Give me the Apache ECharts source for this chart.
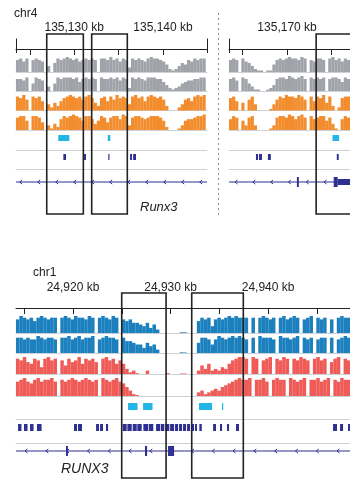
<!DOCTYPE html>
<html>
<head>
<meta charset="utf-8">
<script src="https://cdn.jsdelivr.net/npm/echarts@6/dist/echarts.min.js"></script>
<style>
  html, body { margin: 0; padding: 0; background: #fff; }
  #chart { width: 350px; height: 479px; }
</style>
</head>
<body>
<div id="chart"></div>
<script>
// genomic windows (kb) and coverage bin size
const chr4LeftRange = [135123.45, 135144.95];
const chr4RightRange = [135163.45, 135177.1];
const chr1Range = [24914.15, 24948.4];
const binKb = 0.35;

// ruler ticks / labels (kb)
const chr4LeftTicks = [135125, 135130, 135135, 135140];
const chr4LeftLabels = [135130, 135140];
const chr4RightTicks = [135165, 135170, 135175];
const chr4RightLabels = [135170];
const chr1Ticks = [24915, 24920, 24925, 24930, 24935, 24940, 24945];
const chr1Labels = [24920, 24930, 24940];

// coverage, one value per bin, starting at the window start
const chr4LeftGray1 = [8,9,7,9,0,8,9,8,7,0, 4,0,6,9,8,9,10,9,8,9, 7,8,9,8,9,8,0,9,9,8, 10,8,9,7,9,8,3,9,8,9, 8,7,9,10,9,9,8,7,5,2, 1,2,4,6,5,8,7,9,8,9,9];
const chr4LeftGray2 = [8,8,7,9,0,5,9,8,7,0, 3,0,5,9,8,9,9,9,8,9, 6,8,9,8,9,8,0,9,8,8, 9,8,9,7,9,8,2,9,8,9, 8,7,9,9,9,8,8,6,4,2, 1,2,3,5,6,7,7,8,8,9,9];
const chr4LeftOrange1 = [9,8,10,7,0,9,8,9,6,0, 4,2,5,3,6,8,9,10,9,8, 9,7,9,10,8,5,3,8,9,6, 9,7,10,8,9,8,4,9,10,8, 9,6,9,10,9,8,9,7,3,0, 0,0,2,4,7,8,6,9,10,9,10];
const chr4LeftOrange2 = [8,9,9,6,0,9,9,8,5,0, 3,1,4,2,7,9,8,9,10,9, 8,6,9,9,7,4,6,9,8,5, 8,9,9,7,10,9,3,8,9,9, 8,7,8,9,9,9,8,6,2,0, 0,0,1,3,6,7,7,8,9,9,10];

const chr4RightGray1 = [8,9,8,0,9,7,6,4,2,1, 1,0,1,1,5,8,9,8,9,10, 9,9,8,10,9,0,8,7,9,9, 8,0,9,10,8,9,7,9,8];
const chr4RightGray2 = [8,9,7,0,9,8,5,3,1,1, 0,0,1,2,4,8,9,9,8,10, 9,8,9,10,8,0,9,8,9,8, 9,0,8,9,9,8,6,9,8];
const chr4RightOrange1 = [8,9,6,0,5,0,7,9,4,0, 0,0,0,1,4,7,9,8,10,9, 9,8,10,9,7,0,9,6,9,8, 10,5,9,3,0,2,8,9,9];
const chr4RightOrange2 = [7,9,8,0,6,3,8,9,3,0, 0,0,0,1,3,8,9,9,8,10, 9,7,9,10,8,0,9,7,8,9, 9,6,8,4,1,0,7,9,8];

const chr1Blue1 = [8,10,9,8,9,7,9,10,9,8,9,9, 0, 9,10,9,8,10,9,9,8,10,9,0,9,10,9,8,10,9,0,
  8,7,8,6,6,5,4,6,3,5,2, 0,0,0,0,0,0,0.4,0.4,0,0,0, 7,9,8,9,4,8,9,8,9,10,9,10,9,9,
  9,0,9,0,9,10,9,8,9,0,9,10,8,9,10,9,0,8,9,10,0,9,8,9,0,8,0,9,10,9,9];
const chr1Blue2 = [9,9,8,9,8,8,10,9,8,9,9,8, 0, 9,9,10,8,9,10,8,9,9,10,0,8,9,10,9,9,8,0,
  9,7,7,6,5,5,3,6,4,5,2, 0,0,0,0,0,0,0.4,0.3,0,0,0, 6,9,9,8,5,8,10,9,8,9,10,9,10,9,
  8,0,9,0,10,9,9,9,8,0,10,9,9,8,9,10,0,9,8,9,0,8,9,9,0,9,0,8,9,10,9];
const chr1Red1 = [9,8,10,7,6,9,8,4,9,10,8,9,0,8,5,9,7,8,10,6,9,8,9,7,0,9,10,8,9,6,8,
  6,3,1,2,0.5,0, 0,2,0,0,0,0,0,0.5,0,0,0,0.3,0.3,0,0,0, 2,5,3,6,2, 3,2,4,3, 6,8,9,10,10,
  9,0,10,9,0,8,9,10,0,9,8,10,9,0,9,8,10,9,8,0,9,10,8,9,0,7,9,10,0,9,8];
const chr1Red2 = [8,9,10,8,7,9,10,8,9,9,10,8,0,9,8,9,10,9,8,9,10,9,8,9,0,10,9,8,9,10,8,7,
  5,3,1,0.5, 0,0,0,0,0,0,0,0,0,0,0,0,0,0,0,0,0, 2,3,1,2,3, 4,3,5,6, 7,8,9,10,9,
  9,10,0,9,9,10,8,0,9,10,9,9,0,10,9,8,9,10,0,9,9,10,8,9,10,0,9,8,10,9,9];

// feature intervals [start, end] in kb
const chr4Peaks = [[135128.21, 135129.45], [135133.78, 135134.07], [135175.13, 135175.87]];
const chr4Sites = [[135128.78, 135129.08], [135131.11, 135131.33], [135133.84, 135133.96],
  [135136.29, 135136.51], [135136.63, 135136.96], [135166.49, 135166.72], [135166.83, 135167.17],
  [135167.84, 135168.17], [135175.61, 135175.83]];
const chr4GeneSpan = [135120, 135180];
const chr4Exons = [[135171.11, 135171.33], [135175.26, 135175.71]];
const chr4Utrs = [[135175.71, 135178]];
const chr4LeftBoxes = [[135126.91, 135131.03], [135131.97, 135135.98]];
const chr4RightBoxes = [[135173.28, 135180]];

const chr1Peaks = [[24925.64, 24926.61], [24927.18, 24928.15], [24932.92, 24934.25], [24935.28, 24935.38]];
const chr1Sites = [[24914.36, 24914.71], [24914.97, 24915.33], [24915.59, 24915.95], [24916.30, 24916.77],
  [24920.10, 24920.41], [24920.51, 24920.92], [24922.36, 24922.66], [24922.77, 24923.07], [24923.38, 24923.59],
  [24925.09, 24925.50], [24925.57, 24926.02], [24926.12, 24926.53], [24926.59, 24927.04],
  [24927.21, 24927.72], [24927.79, 24928.23], [24928.51, 24928.92], [24928.99, 24929.36],
  [24929.46, 24929.87], [24929.95, 24930.36], [24930.46, 24930.77], [24930.87, 24931.18],
  [24931.28, 24931.59], [24931.69, 24932.00], [24932.10, 24932.41], [24932.51, 24932.71],
  [24932.95, 24933.20], [24934.36, 24934.66], [24935.07, 24935.28], [24935.79, 24936.00],
  [24936.71, 24937.02], [24946.66, 24947.07], [24947.38, 24947.69], [24948.20, 24948.51]];
const chr1GeneSpan = [24910, 24950];
const chr1Exons = [[24919.28, 24919.48], [24927.38, 24927.59], [24929.74, 24930.36]];
const chr1Boxes = [[24924.99, 24929.54], [24932.17, 24937.46]];

const FONT = '"Liberation Sans", Arial, sans-serif';
const INK = '#222';
const SEP = '#cdd0d5';
const NAVY = '#2e3192';
const CYAN = '#22b5e6';

const fmtKb = v => String(Math.round(v)).replace(/\B(?=(\d{3})+(?!\d))/g, ',') + ' kb';

const grid = [], xAxis = [], yAxis = [], series = [];

function addGrid(rect, range, baseline) {
  const gi = grid.length;
  grid.push({ left: rect[0], top: rect[1], width: rect[2], height: rect[3] });
  const xi = xAxis.length, yi = yAxis.length;
  xAxis.push({
    type: 'value', gridIndex: gi, min: range[0], max: range[1],
    axisLine: { show: !!baseline, onZero: false, lineStyle: { color: SEP, width: 1 } },
    axisTick: { show: false }, axisLabel: { show: false }, splitLine: { show: false }
  });
  yAxis.push({ type: 'value', gridIndex: gi, min: 0, max: 10, show: false });
  return { xi, yi };
}

function addRuler(left, width, top, lineY, range, ticks, labels, caps, margin) {
  const gi = grid.length;
  grid.push({ left, top, width, height: lineY - top });
  const capVals = [];
  if (caps[0]) capVals.push(range[0]);
  if (caps[1]) capVals.push(range[1]);
  xAxis.push({
    type: 'value', gridIndex: gi, position: 'bottom', min: range[0], max: range[1],
    axisLine: { show: true, onZero: false, lineStyle: { color: INK, width: 1 } },
    axisTick: { show: capVals.length > 0, length: 4, customValues: capVals, lineStyle: { color: INK } },
    axisLabel: { show: false }, splitLine: { show: false }
  });
  xAxis.push({
    type: 'value', gridIndex: gi, position: 'top', min: range[0], max: range[1],
    minInterval: 5, maxInterval: 5,
    axisLine: { show: false },
    axisTick: { show: true, inside: true, length: 6, customValues: ticks, lineStyle: { color: INK } },
    axisLabel: { show: true, customValues: labels, formatter: fmtKb, margin,
      fontSize: 12, fontFamily: FONT, color: INK },
    splitLine: { show: false }
  });
  ['left', 'right'].forEach((pos, k) => {
    yAxis.push({
      type: 'value', gridIndex: gi, position: pos, min: 0, max: 1,
      axisLine: { show: caps[k], onZero: false, lineStyle: { color: INK, width: 1 } },
      axisTick: { show: false }, axisLabel: { show: false }, splitLine: { show: false }
    });
  });
}

function addTrack(rect, range, values, color, barWidth) {
  const a = addGrid(rect, range, true);
  series.push({
    type: 'bar', xAxisIndex: a.xi, yAxisIndex: a.yi, barWidth,
    itemStyle: { color },
    data: values.map((v, i) => [range[0] + (i + 0.5) * binKb, v])
  });
}

function addBlocks(rect, range, data, color, dy, h) {
  const a = addGrid(rect, range, true);
  series.push({
    type: 'custom', xAxisIndex: a.xi, yAxisIndex: a.yi, clip: true, data,
    renderItem: (params, api) => {
      const cs = params.coordSys;
      const x1 = api.coord([api.value(0), 0])[0];
      const x2 = api.coord([api.value(1), 0])[0];
      return { type: 'rect', shape: { x: x1, y: cs.y + dy, width: Math.max(x2 - x1, 1.2), height: h },
        style: { fill: color } };
    }
  });
}

function addGene(rect, range, span, exons, utrs, step, phase) {
  const a = addGrid(rect, range, false);
  const base = { type: 'custom', xAxisIndex: a.xi, yAxisIndex: a.yi, clip: true };
  series.push(Object.assign({}, base, {
    data: [span],
    renderItem: (params, api) => {
      const cs = params.coordSys;
      const y = cs.y + cs.height / 2;
      const x1 = Math.max(api.coord([api.value(0), 0])[0], cs.x);
      const x2 = Math.min(api.coord([api.value(1), 0])[0], cs.x + cs.width);
      const kids = [{ type: 'line', shape: { x1, y1: y, x2, y2: y }, style: { stroke: NAVY, lineWidth: 1.2 } }];
      for (let x = x1 + phase; x < x2 - 2; x += step) {
        kids.push({ type: 'polyline', shape: { points: [[x + 1.5, y - 2], [x - 1, y], [x + 1.5, y + 2]] },
          style: { stroke: NAVY, fill: null, lineWidth: 1 } });
      }
      return { type: 'group', children: kids };
    }
  }));
  [[exons, 10], [utrs, 6]].forEach(([list, h]) => {
    if (!list.length) return;
    series.push(Object.assign({}, base, {
      data: list,
      renderItem: (params, api) => {
        const cs = params.coordSys;
        const y = cs.y + cs.height / 2;
        const x1 = api.coord([api.value(0), 0])[0];
        const x2 = api.coord([api.value(1), 0])[0];
        return { type: 'rect', shape: { x: x1, y: y - h / 2, width: Math.max(x2 - x1, 1.5), height: h },
          style: { fill: NAVY } };
      }
    }));
  });
}

function addBoxes(rect, range, boxes) {
  const a = addGrid(rect, range, false);
  series.push({
    type: 'custom', xAxisIndex: a.xi, yAxisIndex: a.yi, clip: false, z: 10, data: boxes,
    renderItem: (params, api) => {
      const cs = params.coordSys;
      const x1 = api.coord([api.value(0), 0])[0];
      const x2 = api.coord([api.value(1), 0])[0];
      return { type: 'rect', shape: { x: x1, y: cs.y, width: x2 - x1, height: cs.height },
        style: { fill: null, stroke: INK, lineWidth: 1.6 } };
    }
  });
}

// ---- top block: mouse chr4, two windows ----
const topPanels = [
  { left: 16, width: 191, range: chr4LeftRange, ticks: chr4LeftTicks, labels: chr4LeftLabels, caps: [true, true],
    tracks: [chr4LeftGray1, chr4LeftGray2, chr4LeftOrange1, chr4LeftOrange2], boxes: chr4LeftBoxes, step: 18, phase: 4.7 },
  { left: 229, width: 121, range: chr4RightRange, ticks: chr4RightTicks, labels: chr4RightLabels, caps: [true, false],
    tracks: [chr4RightGray1, chr4RightGray2, chr4RightOrange1, chr4RightOrange2], boxes: chr4RightBoxes, step: 17.8, phase: 7 }
];
const topColors = ['#a0a3a9', '#a0a3a9', '#f28c2c', '#f28c2c'];
const topRows = [[57, 15], [76, 15], [95, 15.5], [114.5, 15.5]];

topPanels.forEach(p => {
  addRuler(p.left, p.width, 39, 49, p.range, p.ticks, p.labels, p.caps, 5);
  p.tracks.forEach((vals, k) => addTrack([p.left, topRows[k][0], p.width, topRows[k][1]], p.range, vals, topColors[k], 3.2));
  addBlocks([p.left, 130, p.width, 20], p.range, chr4Peaks, CYAN, 5, 6);
  addBlocks([p.left, 150, p.width, 19], p.range, chr4Sites, NAVY, 4, 6);
  addGene([p.left, 169, p.width, 26], p.range, chr4GeneSpan, chr4Exons, chr4Utrs, p.step, p.phase);
  addBoxes([p.left, 34, p.width, 180], p.range, p.boxes);
});

// ---- bottom block: human chr1 ----
const botColors = ['#1b80bd', '#1b80bd', '#ef5b57', '#ef5b57'];
const botRows = [[316, 17], [336, 17], [357, 17], [378, 18]];
addRuler(16, 334, 296, 308, chr1Range, chr1Ticks, chr1Labels, [false, false], 2);
[chr1Blue1, chr1Blue2, chr1Red1, chr1Red2].forEach((vals, k) =>
  addTrack([16, botRows[k][0], 334, botRows[k][1]], chr1Range, vals, botColors[k], 3.5));
addBlocks([16, 396, 334, 23], chr1Range, chr1Peaks, CYAN, 7, 7);
addBlocks([16, 419, 334, 24], chr1Range, chr1Sites, NAVY, 5, 7);
addGene([16, 443, 334, 16], chr1Range, chr1GeneSpan, chr1Exons, [], 20.8, 10);
addBoxes([16, 293, 334, 185], chr1Range, chr1Boxes);

const chart = echarts.init(document.getElementById('chart'));
chart.setOption({
  animation: false,
  grid, xAxis, yAxis, series,
  graphic: [
    { type: 'text', x: 14, y: 13.5, style: { text: 'chr4', font: '12px ' + FONT, fill: INK, verticalAlign: 'middle' } },
    { type: 'text', x: 33, y: 272.5, style: { text: 'chr1', font: '12px ' + FONT, fill: INK, verticalAlign: 'middle' } },
    { type: 'text', x: 140, y: 207.5, style: { text: 'Runx3', font: 'italic 13px ' + FONT, fill: INK, verticalAlign: 'middle' } },
    { type: 'text', x: 61, y: 469.5, style: { text: 'RUNX3', font: 'italic 14px ' + FONT, fill: INK, verticalAlign: 'middle' } },
    { type: 'line', shape: { x1: 218.5, y1: 13, x2: 218.5, y2: 216 }, style: { stroke: '#888', lineWidth: 1, lineDash: [2, 3] } }
  ]
});
</script>
</body>
</html>
